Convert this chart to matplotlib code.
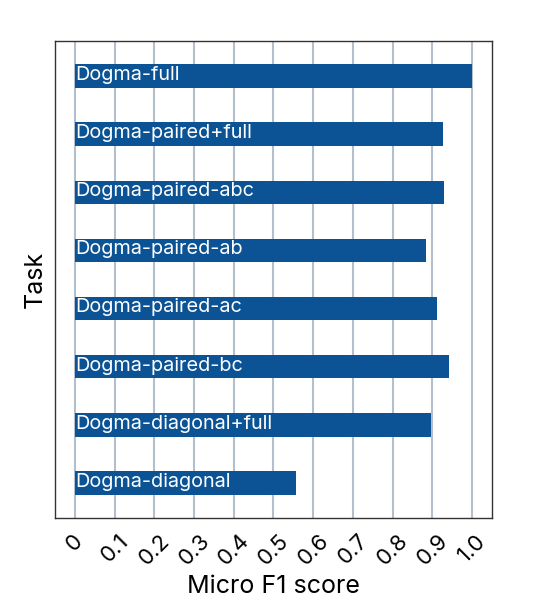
import matplotlib
matplotlib.use("Agg")
import matplotlib.pyplot as plt

tasks = [
    "Dogma-full",
    "Dogma-paired+full",
    "Dogma-paired-abc",
    "Dogma-paired-ab",
    "Dogma-paired-ac",
    "Dogma-paired-bc",
    "Dogma-diagonal+full",
    "Dogma-diagonal",
]
micro_f1 = [1.0, 0.927, 0.929, 0.884, 0.912, 0.942, 0.896, 0.556]
tick_values = [0, 0.1, 0.2, 0.3, 0.4, 0.5, 0.6, 0.7, 0.8, 0.9, 1.0]
tick_labels = ["0", "0.1", "0.2", "0.3", "0.4", "0.5", "0.6", "0.7", "0.8", "0.9", "1.0"]

plt.rcParams["font.family"] = ["Inter", "DejaVu Sans"]

fig = plt.figure(figsize=(5.47, 5.97), dpi=100)
ax = fig.add_axes([55 / 547, 1 - 518 / 597, 437 / 547, 477 / 597])

bar_color = "#0b5394"
ypos = list(range(len(tasks)))[::-1]
ax.barh(ypos, micro_f1, height=0.4, color=bar_color, zorder=3)
for y, name in zip(ypos, tasks):
    ax.text(0.0, y + 0.02, name, color="white", fontsize=14.3, va="center", ha="left", zorder=4)

ax.set_xlim(-0.05, 1.05)
ax.set_ylim(-0.6, 7.6)
ax.set_xticks(tick_values)
ax.set_xticklabels(tick_labels, rotation=45, ha="center", fontsize=16)
ax.tick_params(axis="x", length=0, pad=9)
ax.set_yticks([])
ax.grid(axis="x", color="#b3bfcc", linewidth=1.5, zorder=0)
for spine in ax.spines.values():
    spine.set_color("#333333")
    spine.set_linewidth(1.0)

ax.set_xlabel("Micro F1 score", fontsize=18, labelpad=4)
ax.set_ylabel("Task", fontsize=18, labelpad=6)

fig.savefig("out.png", dpi=100)
